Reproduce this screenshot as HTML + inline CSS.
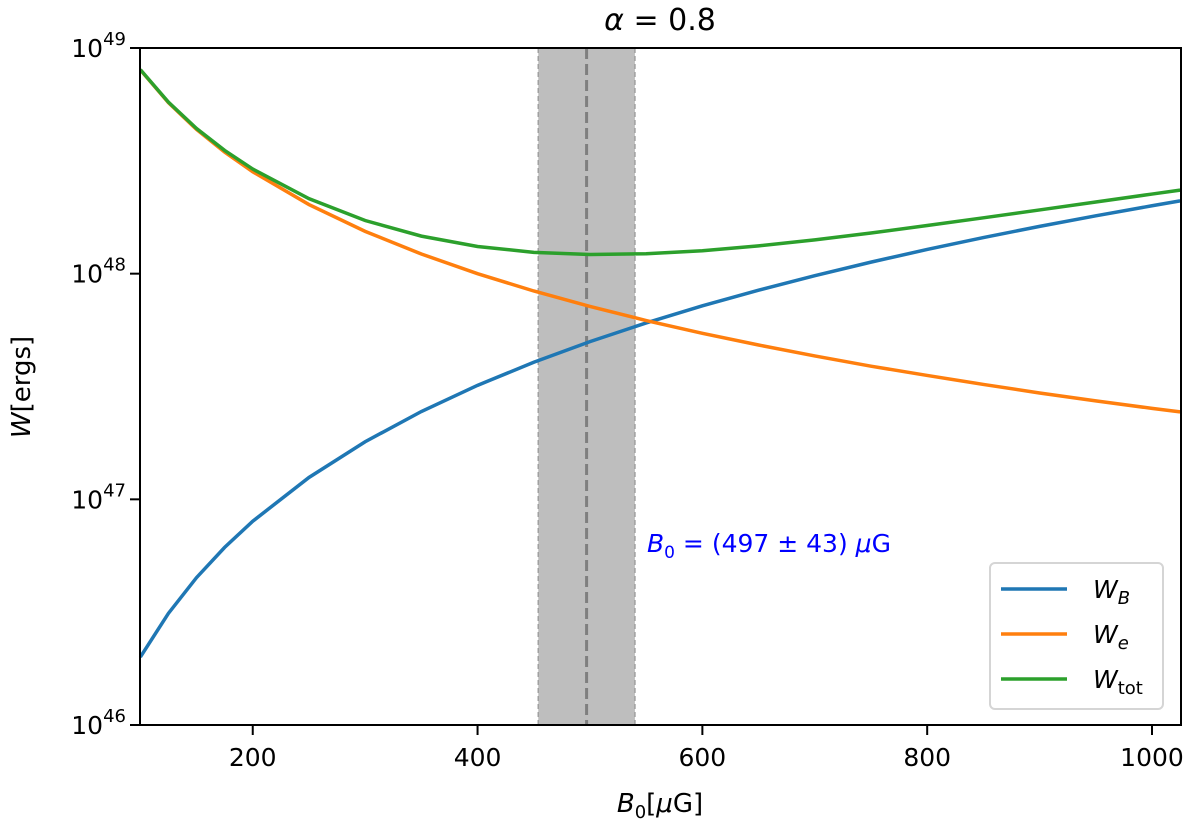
<!DOCTYPE html>
<html><head><meta charset="utf-8"><style>
body{margin:0;background:#fff}
svg text{font-family:"DejaVu Sans","Liberation Sans",sans-serif}
</style></head><body>
<svg width="1200" height="831" viewBox="0 0 1200 831" xmlns="http://www.w3.org/2000/svg">
<g id="plot"></g>
</svg>
<script>
const bValues=[100,125,150,175,200,250,300,350,400,450,500,550,600,650,700,750,800,850,900,950,1000,1025];
const wB=[2,3.125,4.5,6.125,8,12.5,18,24.5,32,40.5,50,60.5,72,84.5,98,112.5,128,144.5,162,180.5,200,210.1];
const wE=[800,572.4,435.4,345.6,282.8,202.4,154,122.2,100,83.8,71.6,62,54.4,48.3,43.2,38.9,35.4,32.3,29.6,27.3,25.3,24.4];
const wTot=[802,575.5,439.9,351.7,290.8,214.9,172,146.7,132,124.3,121.6,122.5,126.4,132.8,141.2,151.4,163.4,176.8,191.6,207.8,225.3,234.5];
const xTicks=[200,400,600,800,1000];
const yTicks=[46,47,48,49];
const bBest=497, bErr=43;
const L=140,R=1181,T=48,B=725,xmin=99.7,xmax=1025.8;
const X=v=>L+(v-xmin)/(xmax-xmin)*(R-L);
const Y=v=>B-(Math.log10(v))/3*(B-T); // v in 1e46 units
const YE=e=>B-(e-46)/3*(B-T);
const svg=document.querySelector('svg'),g=document.getElementById('plot'),NS='http://www.w3.org/2000/svg';
function mk(t,a,p){const e=document.createElementNS(NS,t);for(const k in a)e.setAttribute(k,a[k]);(p||g).appendChild(e);return e;}
let e;
e=mk('rect',{x:X(bBest-bErr),y:T,width:X(bBest+bErr)-X(bBest-bErr),height:B-T,fill:'#bebebe'});


for(const v of [bBest-bErr,bBest+bErr]){e=mk('line',{x1:X(v),x2:X(v),y1:T,y2:B,stroke:'#a0a0a0','stroke-width':1.5,'stroke-dasharray':'5,3'});

}
e=mk('line',{x1:X(bBest),x2:X(bBest),y1:T,y2:B,stroke:'#7f7f7f','stroke-width':3,'stroke-dasharray':'11,5'});


const series=[[wB,'#1f77b4','w-b-line'],[wE,'#ff7f0e','w-e-line'],[wTot,'#2ca02c','w-tot-line']];
for(const [arr,c,n] of series){
 e=mk('polyline',{points:arr.map((v,i)=>X(bValues[i])+','+Y(v)).join(' '),fill:'none',stroke:c,'stroke-width':3.5});
 
 
}
e=mk('rect',{x:L,y:T,width:R-L,height:B-T,fill:'none',stroke:'#000','stroke-width':2});


for(const t of xTicks){
 mk('line',{x1:X(t),x2:X(t),y1:B,y2:B+10,stroke:'#000','stroke-width':2});
 e=mk('text',{x:X(t),y:B+41,'text-anchor':'middle','font-size':25});e.textContent=t;
 
 
}
for(const t of yTicks){
 mk('line',{x1:L-10,x2:L,y1:YE(t),y2:YE(t),stroke:'#000','stroke-width':2});
 e=mk('text',{x:L-14,y:YE(t)+9,'text-anchor':'end','font-size':25});
 e.innerHTML='10<tspan dy="-12" font-size="18">'+t+'</tspan>';
 
 
}
</script>
<svg width="1200" height="831" style="position:absolute;left:0;top:0" xmlns="http://www.w3.org/2000/svg">
<text x="660" y="30" text-anchor="middle" font-size="30" font-family="DejaVu Sans,sans-serif"><tspan font-style="italic">α</tspan> = 0.8</text>
<text x="660" y="812" text-anchor="middle" font-size="26" font-family="DejaVu Sans,sans-serif"><tspan font-style="italic">B</tspan><tspan font-size="18" dy="6">0</tspan><tspan dy="-6">[</tspan><tspan font-style="italic">μ</tspan>G]</text>
<text transform="translate(30,387) rotate(-90)" text-anchor="middle" font-size="26" font-family="DejaVu Sans,sans-serif"><tspan font-style="italic">W</tspan>[ergs]</text>
<text x="647" y="552" font-size="25" fill="#0000ff" font-family="DejaVu Sans,sans-serif"><tspan font-style="italic">B</tspan><tspan font-size="17" dy="6">0</tspan><tspan dy="-6"> = (497 ± 43) </tspan><tspan font-style="italic">μ</tspan>G</text>
<g font-family="DejaVu Sans,sans-serif" font-size="25">
<rect x="990" y="563" width="173" height="146" rx="5" fill="#fff" fill-opacity="0.85" stroke="#d5d5d5" stroke-width="2"/>
<line x1="1001" x2="1067" y1="589" y2="589" stroke="#1f77b4" stroke-width="3.5"/>
<text x="1093" y="598"><tspan font-style="italic">W</tspan><tspan font-style="italic" font-size="18" dy="6">B</tspan></text>
<line x1="1001" x2="1067" y1="634" y2="634" stroke="#ff7f0e" stroke-width="3.5"/>
<text x="1093" y="643"><tspan font-style="italic">W</tspan><tspan font-style="italic" font-size="18" dy="6">e</tspan></text>
<line x1="1001" x2="1067" y1="679" y2="679" stroke="#2ca02c" stroke-width="3.5"/>
<text x="1093" y="688"><tspan font-style="italic">W</tspan><tspan font-size="18" dy="6">tot</tspan></text>
</g>
</svg>
</body></html>
